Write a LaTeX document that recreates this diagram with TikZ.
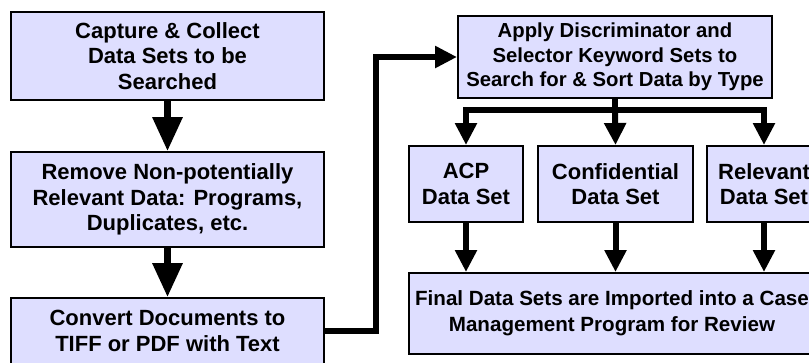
\documentclass[tikz,border=0pt]{standalone}
\usepackage{fontspec}
\setmainfont{Liberation Sans}
\usetikzlibrary{arrows.meta}
\definecolor{boxfill}{RGB}{222,222,255}
\begin{document}
\begin{tikzpicture}[x=1pt,y=-1pt,
  box/.style={draw=black,line width=2pt,fill=boxfill,inner sep=0pt,align=center,
    font=\fontsize{22}{25.5}\selectfont\bfseries},
  smallfont/.style={font=\fontsize{20.3}{24.5}\selectfont\bfseries},
  bigarr/.style={line width=6.5pt,-{Triangle[width=29pt,length=34pt]}},
  smallarr/.style={line width=6pt,-{Triangle[width=21pt,length=22pt]}},
  conn/.style={line width=6pt}]
\useasboundingbox (0,0) rectangle (809,362);
\clip (0,0) rectangle (809,362);
\node[box,minimum width=313pt,minimum height=88pt] (cap) at (167.5,56) {Capture \& Collect\\Data Sets to be\\Searched};
\node[box,minimum width=313pt,minimum height=95pt] (rem) at (167.5,199.5) {Remove Non-potentially\\Relevant Data: Programs,\\Duplicates, etc.};
\node[box,minimum width=313pt,minimum height=66pt] (conv) at (167.5,331) {Convert Documents to\\TIFF or PDF with Text};
\node[box,smallfont,minimum width=314pt,minimum height=82pt] (apply) at (615,57) {Apply Discriminator and\\Selector Keyword Sets to\\Search for \& Sort Data by Type};
\node[box,minimum width=114pt,minimum height=76pt] (acp) at (466,184) {ACP\\Data Set};
\node[box,minimum width=155pt,minimum height=76pt] (conf) at (615.5,184) {Confidential\\Data Set};
\node[box,minimum width=114pt,minimum height=76pt] (rel) at (764,184) {Relevant\\Data Set};
\node[box,font=\fontsize{20.6}{26}\selectfont\bfseries,minimum width=406pt,minimum height=81pt] (final) at (612,313.5) {Final Data Sets are Imported into a Case\\Management Program for Review};
\coordinate (bus) at (615,110);
\coordinate (turn) at (376,331);
\draw[bigarr] (cap.south) -- (rem.north);
\draw[bigarr] (rem.south) -- (conv.north);
\draw[smallarr] (conv.east) -- (turn) |- (apply.west);
\draw[conn] (apply.south) -- (bus);
\draw[smallarr] (bus) -| (acp.north);
\draw[smallarr] (bus) -| (rel.north);
\draw[smallarr] (bus) -- (conf.north);
\draw[smallarr] (acp.south) -- (acp.south |- final.north);
\draw[smallarr] (conf.south) -- (conf.south |- final.north);
\draw[smallarr] (rel.south) -- (rel.south |- final.north);
\end{tikzpicture}
\end{document}
